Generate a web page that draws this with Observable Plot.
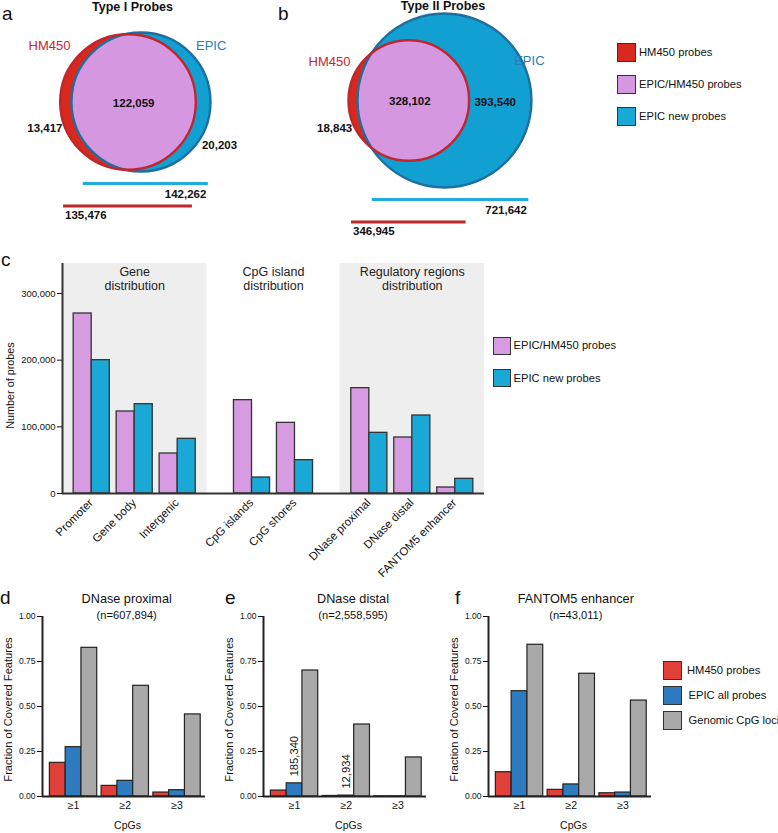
<!DOCTYPE html>
<html>
<head>
<meta charset="utf-8">
<script src="https://cdn.jsdelivr.net/npm/d3@7"></script>
<script src="https://cdn.jsdelivr.net/npm/@observablehq/plot@0.6"></script>
<style>
  html, body { margin: 0; padding: 0; background: #fff; }
  #fig { position: relative; width: 778px; height: 833px; overflow: hidden; background: #fff;
         font-family: "Liberation Sans", Arial, Helvetica, sans-serif; color: #111; }
  .abs { position: absolute; white-space: nowrap; line-height: 1; }
  .sw { position: absolute; box-sizing: border-box; border: 1.3px solid #333; }
</style>
</head>
<body>
<div id="fig"></div>
<script>
// ---------------- DATA ----------------
// a, b: Venn diagrams (HM450 vs EPIC)
const vennSets = ["HM450", "EPIC"];
const typeITotals = [135476, 142262];
const typeIShared = 122059;
const typeIOnly = [13417, 20203];
const typeIITotals = [346945, 721642];
const typeIIShared = 328102;
const typeIIOnly = [18843, 393540];
const vennLegend = ["HM450 probes", "EPIC/HM450 probes", "EPIC new probes"];

// c: genomic distribution of probes
const regionCategories = ["Promoter", "Gene body", "Intergenic", "CpG islands", "CpG shores",
                          "DNase proximal", "DNase distal", "FANTOM5 enhancer"];
const regionGroupIndex = [0, 0, 0, 1, 1, 2, 2, 2];
const regionGroupNames = ["Gene\ndistribution", "CpG island\ndistribution", "Regulatory regions\ndistribution"];
const regionSeries = ["EPIC/HM450 probes", "EPIC new probes"];
const epicHm450Counts = [270000, 123000, 60000, 140000, 106000, 158000, 84000, 9000];
const epicNewCounts = [200000, 134000, 82000, 24000, 50000, 91000, 117000, 22000];
const countTicks = [0, 100000, 200000, 300000];

// d, e, f: fraction of covered features
const cpgThresholds = ["\u22651", "\u22652", "\u22653"];
const coverageSeries = ["HM450 probes", "EPIC all probes", "Genomic CpG loci"];
const featureNames = ["DNase proximal", "DNase distal", "FANTOM5 enhancer"];
const featureCounts = ["(n=607,894)", "(n=2,558,595)", "(n=43,011)"];
const dnaseProximalHm450 = [0.187, 0.059, 0.022];
const dnaseProximalEpic = [0.274, 0.087, 0.035];
const dnaseProximalGenomic = [0.826, 0.615, 0.456];
const dnaseDistalHm450 = [0.033, 0.003, 0.001];
const dnaseDistalEpic = [0.073, 0.005, 0.001];
const dnaseDistalGenomic = [0.700, 0.400, 0.217];
const fantom5Hm450 = [0.135, 0.037, 0.018];
const fantom5Epic = [0.585, 0.067, 0.022];
const fantom5Genomic = [0.843, 0.682, 0.533];
const dnaseDistalEpicLabels = ["185,340", "12,934", ""];
const fractionTicks = [0, 0.25, 0.5, 0.75, 1];

// ---------------- STYLE ----------------
const FONT = '"Liberation Sans", Arial, Helvetica, sans-serif';
const VENN_RED = "#D9291F", VENN_RED_LINE = "#C0262C", VENN_BLUE = "#12A0D2",
      VENN_BLUE_LINE = "#1E6E9F", VENN_PINK = "#D597DF", LINE_BLUE = "#22ACDD";
const RED_TEXT = "#C4262E", BLUE_TEXT = "#2A7DB5";
const PINK = "#D79BE1", CYAN = "#1AA8D6";
const COV_COLORS = ["#E0403A", "#2F7BBF", "#A9A9A9"];
const fig = document.getElementById("fig");

function place(svg, left, top) {
  svg.style.position = "absolute";
  svg.style.left = left + "px";
  svg.style.top = top + "px";
  svg.style.maxWidth = "none";
  svg.style.background = "transparent";
  svg.style.overflow = "visible";
  fig.appendChild(svg);
  return svg;
}
function label(text, x, y, {anchor = "start", size = 12, weight = "normal", color = "#111"} = {}) {
  const el = document.createElement("div");
  el.className = "abs";
  el.textContent = text;
  const tx = anchor === "start" ? "0" : anchor === "middle" ? "-50%" : "-100%";
  Object.assign(el.style, {left: x + "px", top: y + "px", transform: `translate(${tx},-50%)`,
    fontSize: size + "px", fontWeight: weight, color});
  fig.appendChild(el);
}
function swatch(x, y, s, color) {
  const el = document.createElement("div");
  el.className = "sw";
  Object.assign(el.style, {left: x + "px", top: y + "px", width: s + "px", height: s + "px", background: color});
  fig.appendChild(el);
}

// ---------------- VENN (a, b) ----------------
function lensArea(r1, r2, d) {
  if (d >= r1 + r2) return 0;
  if (d <= Math.abs(r1 - r2)) return Math.PI * Math.min(r1, r2) ** 2;
  const a1 = Math.acos((d * d + r1 * r1 - r2 * r2) / (2 * d * r1));
  const a2 = Math.acos((d * d + r2 * r2 - r1 * r1) / (2 * d * r2));
  return r1 * r1 * a1 + r2 * r2 * a2 -
    0.5 * Math.sqrt((-d + r1 + r2) * (d + r1 - r2) * (d - r1 + r2) * (d + r1 + r2));
}
function centerDistance(r1, r2, shared) {
  let lo = Math.abs(r1 - r2), hi = r1 + r2;
  for (let i = 0; i < 100; i++) {
    const mid = (lo + hi) / 2;
    if (lensArea(r1, r2, mid) > shared) lo = mid; else hi = mid;
  }
  return (lo + hi) / 2;
}

let clipId = 0;
function vennPanel(totals, shared, only, layout) {
  const {k, cx, cy, width, height, setDx, setDy, onlyPos, lensDx} = layout;
  const rH = Math.sqrt(totals[0] / Math.PI);
  const rE = Math.sqrt(totals[1] / Math.PI);
  const d = centerDistance(rH, rE, shared);
  const H = {x: 0, y: 0, n: totals[0]};
  const E = {x: d, y: 0, n: totals[1]};
  const pos = {x: "x", y: "y", r: "n"};
  const fmt = d3.format(",");
  const bold = {fontWeight: "bold", fontSize: 11.5, fill: "#111"};
  const t = (x, y, s) => [{x, y, s}];
  const tp = {x: "x", y: "y", text: "s"};
  const svg = Plot.plot({
    width, height, margin: 0,
    style: {background: "transparent", fontFamily: FONT, overflow: "visible"},
    x: {domain: [-cx / k, (width - cx) / k], axis: null},
    y: {domain: [-(height - cy) / k, cy / k], axis: null},
    r: {type: "sqrt", domain: [0, totals[1]], range: [0, k * rE]},
    marks: [
      Plot.dot([H], {...pos, fill: VENN_RED, stroke: "none"}),
      Plot.dot([E], {...pos, fill: VENN_BLUE, stroke: "none"}),
      Plot.dot([H], {...pos, fill: VENN_PINK, stroke: "none"}),
      Plot.dot([E], {...pos, fill: "none", stroke: VENN_BLUE_LINE, strokeWidth: 2.4}),
      Plot.dot([H], {...pos, fill: "none", stroke: VENN_RED_LINE, strokeWidth: 2.4}),
      Plot.ruleY([{y: -rE, x1: d - 0.83 * rE, x2: d + 0.97 * rE}],
        {y: "y", x1: "x1", x2: "x2", stroke: LINE_BLUE, strokeWidth: 3, dy: 12}),
      Plot.ruleY([{y: -rE, x1: -0.95 * rH, x2: 0.95 * rH}],
        {y: "y", x1: "x1", x2: "x2", stroke: VENN_RED_LINE, strokeWidth: 3, dy: 34.5}),
      Plot.text(t(d + 0.97 * rE, -rE, fmt(totals[1])), {...tp, ...bold, textAnchor: "end", dx: -2, dy: 22.5}),
      Plot.text(t(-0.95 * rH, -rE, fmt(totals[0])), {...tp, ...bold, textAnchor: "start", dx: 1.5, dy: 43.5}),
      Plot.text(t(0, 0, vennSets[0]), {...tp, fill: RED_TEXT, fontSize: 13, textAnchor: "end", dx: setDx[0], dy: setDy[0]}),
      Plot.text(t(d, 0, vennSets[1]), {...tp, fill: BLUE_TEXT, fontSize: 13, textAnchor: "start", dx: setDx[1], dy: setDy[1]}),
      Plot.text(t((d - rE + rH) / 2, 0, fmt(shared)), {...tp, ...bold, dx: lensDx, dy: 1}),
      Plot.text(t(0, 0, fmt(only[0])), {...tp, ...bold, textAnchor: "end", dx: onlyPos[0][0], dy: onlyPos[0][1]}),
      Plot.text(t(d, 0, fmt(only[1])), {...tp, ...bold, textAnchor: onlyPos[1][2], dx: onlyPos[1][0], dy: onlyPos[1][1]})
    ]
  });
  // clip the pink intersection layer to the EPIC circle
  let dots = svg.querySelectorAll('g[aria-label="dot"]');
  if (dots.length < 3) dots = Array.from(svg.children).filter(n => n.tagName === "g");
  const eCircle = dots[1].querySelector("circle");
  const pinkCircle = dots[2].querySelector("circle");
  if (eCircle && pinkCircle) {
    const id = "venn-clip-" + (clipId++);
    const ns = "http://www.w3.org/2000/svg";
    const defs = document.createElementNS(ns, "defs");
    const cp = document.createElementNS(ns, "clipPath");
    cp.setAttribute("id", id);
    const c = eCircle.cloneNode(true);
    c.removeAttribute("fill"); c.removeAttribute("stroke");
    cp.appendChild(c);
    defs.appendChild(cp);
    svg.insertBefore(defs, svg.firstChild);
    pinkCircle.setAttribute("clip-path", `url(#${id})`);
  }
  return svg;
}

place(vennPanel(typeITotals, typeIShared, typeIOnly, {
  k: 0.3266, cx: 127.5, cy: 101.5, width: 260, height: 245,
  setDx: [-57.5, 55], setDy: [-56.5, -56.5],
  onlyPos: [[-65.5, 26.5], [61, 43.5, "start"]], lensDx: 0
}), 0, 0);
place(vennPanel(typeIITotals, typeIIShared, typeIIOnly, {
  k: 0.1815, cx: 148.3, cy: 100, width: 280, height: 245,
  setDx: [-58.3, 69.7], setDy: [-39, -40],
  onlyPos: [[-56.6, 28.3], [50.7, 2.3, "middle"]], lensDx: -3.5
}), 260, 0);

label("a", 2, 13, {size: 19});
label("b", 278, 13, {size: 19});
label("Type I Probes", 132.5, 7, {anchor: "middle", size: 12.5, weight: "bold"});
label("Type II Probes", 443, 6, {anchor: "middle", size: 12.5, weight: "bold"});
[VENN_RED, VENN_PINK, CYAN].forEach((col, i) => {
  swatch(617, 43 + i * 32, 19, col);
  label(vennLegend[i], 639, 53 + i * 32, {size: 11.2});
});

// ---------------- PANEL c ----------------
const regionGap = 0.73, regionPad = 0.68, regionBarW = 0.42, regionYMax = 345000;
const regionPos = regionCategories.map((c, i) => i + regionGroupIndex[i] * regionGap);
const regionBars = regionCategories.flatMap((c, i) => [
  {series: regionSeries[0], x1: regionPos[i] - regionBarW, x2: regionPos[i], y1: 0, value: epicHm450Counts[i]},
  {series: regionSeries[1], x1: regionPos[i], x2: regionPos[i] + regionBarW, y1: 0, value: epicNewCounts[i]}
]);
const regionGroups = regionGroupNames.map((name, g) => {
  const ps = regionPos.filter((p, i) => regionGroupIndex[i] === g);
  return {name, g, x1: d3.min(ps) - regionPad, x2: d3.max(ps) + regionPad,
          center: (d3.min(ps) + d3.max(ps)) / 2, y1: 0, y2: regionYMax};
});
const regionXDomain = [regionGroups[0].x1, regionGroups[regionGroups.length - 1].x2];
const regionLabels = regionCategories.map((name, i) => ({name, x: regionPos[i]}));

place(Plot.plot({
  width: 500, height: 345, marginLeft: 62, marginRight: 16, marginTop: 8, marginBottom: 107,
  style: {background: "transparent", fontFamily: FONT, fontSize: "9.5px", color: "#111", overflow: "visible"},
  x: {domain: regionXDomain, axis: null},
  y: {domain: [0, regionYMax], ticks: countTicks, tickFormat: d3.format(","), tickSize: 5, tickPadding: 2, label: null},
  color: {domain: regionSeries, range: [PINK, CYAN]},
  marks: [
    Plot.rect(regionGroups.filter(d => d.g !== 1), {x1: "x1", x2: "x2", y1: "y1", y2: "y2", fill: "#EEEEEE"}),
    Plot.text(regionGroups, {x: "center", text: "name", frameAnchor: "top", lineAnchor: "top", dy: 3,
      fontSize: 12.5, lineHeight: 1.1, fill: "#222"}),
    Plot.rect(regionBars, {x1: "x1", x2: "x2", y1: "y1", y2: "value", fill: "series", stroke: "#333", strokeWidth: 1.3}),
    Plot.ruleY([0], {stroke: "#333", strokeWidth: 2}),
    Plot.ruleX([{x: regionXDomain[0], y1: 0, y2: regionYMax}], {x: "x", y1: "y1", y2: "y2", stroke: "#333", strokeWidth: 2}),
    Plot.text(regionLabels, {x: "x", text: "name", frameAnchor: "bottom", rotate: -45, textAnchor: "end",
      dx: 2, dy: 10, fontSize: 11.5, fill: "#111"}),
    Plot.text(["Number of probes"], {text: d => d, frameAnchor: "left", textAnchor: "middle", rotate: -90,
      dx: -52, dy: 7, fontSize: 10.8, fill: "#111"})
  ]
}), 0, 255);

label("c", 1, 259, {size: 19});
[PINK, CYAN].forEach((col, i) => {
  swatch(493, 337 + i * 32, 18, col);
  label(regionSeries[i], 513.5, 346 + i * 32.5, {size: 11.2});
});

// ---------------- PANELS d, e, f ----------------
const coveragePanels = [
  {letter: "d", values: [dnaseProximalHm450, dnaseProximalEpic, dnaseProximalGenomic], notes: null},
  {letter: "e", values: [dnaseDistalHm450, dnaseDistalEpic, dnaseDistalGenomic], notes: dnaseDistalEpicLabels},
  {letter: "f", values: [fantom5Hm450, fantom5Epic, fantom5Genomic], notes: null}
];
const covLayout = [
  {left: 0, letterX: 0, titleX: 126.7},
  {left: 221, letterX: 225, titleX: 353},
  {left: 446, letterX: 455, titleX: 575.8}
];
const covBarW = 0.305, covXDomain = [-0.6, 2.55];

coveragePanels.forEach((panel, p) => {
  const bars = cpgThresholds.flatMap((t, g) => coverageSeries.map((s, si) => ({
    series: s, x1: g + (si - 1.5) * covBarW, x2: g + (si - 0.5) * covBarW, y1: 0, value: panel.values[si][g]
  })));
  const ticks = cpgThresholds.map((t, g) => ({g, t}));
  const notes = panel.notes ? cpgThresholds.map((t, g) => ({g, v: panel.values[1][g], s: panel.notes[g]})).filter(d => d.s) : [];
  place(Plot.plot({
    width: 207, height: 233, marginLeft: 42, marginRight: 2, marginTop: 16, marginBottom: 37,
    style: {background: "transparent", fontFamily: FONT, fontSize: "8.5px", color: "#111", overflow: "visible"},
    x: {domain: covXDomain, axis: null},
    y: {domain: [0, 1], ticks: fractionTicks, tickFormat: d3.format(".2f"), tickSize: 5, tickPadding: 2, label: null},
    color: {domain: coverageSeries, range: COV_COLORS},
    marks: [
      Plot.rect(bars, {x1: "x1", x2: "x2", y1: "y1", y2: "value", fill: "series", stroke: "#222", strokeWidth: 1.2}),
      Plot.ruleY([0], {stroke: "#222", strokeWidth: 2}),
      Plot.ruleX([{x: covXDomain[0], y1: 0, y2: 1}], {x: "x", y1: "y1", y2: "y2", stroke: "#222", strokeWidth: 2}),
      Plot.text(ticks, {x: "g", text: "t", frameAnchor: "bottom", dy: 12, fontSize: 10.5, fill: "#111"}),
      Plot.text(["CpGs"], {text: d => d, frameAnchor: "bottom", dx: 3.5, dy: 32, fontSize: 10.5, fill: "#111"}),
      Plot.text(["Fraction of Covered Features"], {text: d => d, frameAnchor: "left", textAnchor: "middle", rotate: -90,
        dx: -34, dy: 3, fontSize: 11.1, fill: "#111"}),
      Plot.text(notes, {x: "g", y: "v", text: "s", rotate: -90, textAnchor: "start", dy: -7, fontSize: 11.2, fill: "#111"})
    ]
  }), covLayout[p].left, 600);
  label(panel.letter, covLayout[p].letterX, 597, {size: 19});
  label(featureNames[p], covLayout[p].titleX, 599, {anchor: "middle", size: 12.7});
  label(featureCounts[p], covLayout[p].titleX, 616, {anchor: "middle", size: 11.1});
});

COV_COLORS.forEach((col, i) => {
  swatch(663, 661 + i * 25, 19, col);
  label(coverageSeries[i], 687 + (i === 0 ? 0 : 1.5), 670.5 + i * 25, {size: 11.2});
});
</script>
</body>
</html>
